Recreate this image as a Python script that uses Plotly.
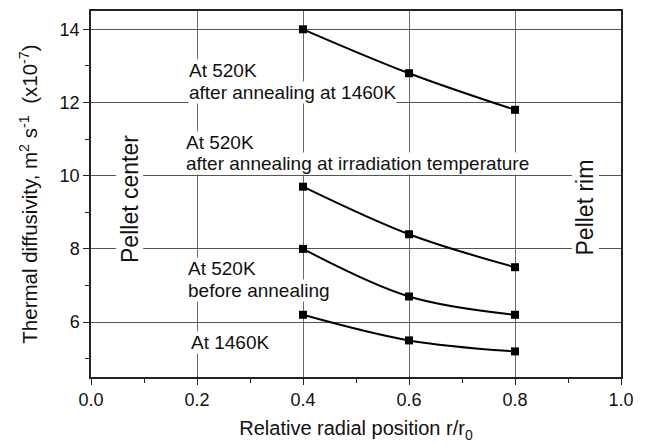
import plotly.graph_objects as go

r_pos = [0.4, 0.6, 0.8]
after_1460 = [14.0, 12.8, 11.8]
after_irr = [9.7, 8.4, 7.5]
before_ann = [8.0, 6.7, 6.2]
at_1460 = [6.2, 5.5, 5.2]

x_ticks = [0.0, 0.2, 0.4, 0.6, 0.8, 1.0]
x_ticklabels = ["0.0", "0.2", "0.4", "0.6", "0.8", "1.0"]
y_ticks = [6, 8, 10, 12, 14]
y_ticklabels = ["6", "8", "10", "12", "14"]

FONT = "Liberation Sans, Arial, sans-serif"
fig = go.Figure()
for name, ys in [("after 1460K", after_1460), ("after irr", after_irr),
                 ("before", before_ann), ("1460K", at_1460)]:
    fig.add_trace(go.Scatter(
        x=r_pos, y=ys, mode="lines+markers", name=name,
        line=dict(color="black", width=2, shape="spline"),
        marker=dict(symbol="square", size=8, color="black"),
        showlegend=False))

ann_font = dict(family=FONT, size=19, color="#111")
texts = [
    ("At 520K", 0.1825, 12.874),
    ("after annealing at 1460K", 0.1825, 12.277),
    ("At 520K", 0.1774, 10.92),
    ("after annealing at irradiation temperature", 0.1774, 10.32),
    ("At 520K", 0.1817, 7.473),
    ("before annealing", 0.1817, 6.863),
    ("At 1460K", 0.1868, 5.43),
]
for t, x, y in texts:
    fig.add_annotation(x=x, y=y, xref="x", yref="y", text=t, showarrow=False,
                       xanchor="left", yanchor="middle", font=ann_font,
                       bgcolor="white", borderpad=0)

fig.add_annotation(x=0.0723, y=9.373, xref="x", yref="y", text="Pellet center",
                   showarrow=False, textangle=-90, font=dict(family=FONT, size=23, color="#111"),
                   bgcolor="white", borderpad=0, xanchor="center", yanchor="middle")
fig.add_annotation(x=0.932, y=9.13, xref="x", yref="y", text="Pellet rim",
                   showarrow=False, textangle=-90, font=dict(family=FONT, size=23, color="#111"),
                   bgcolor="white", borderpad=0, xanchor="center", yanchor="middle")

fig.update_xaxes(
    range=[0, 1.0], tickvals=x_ticks, ticktext=x_ticklabels,
    showgrid=True, gridcolor="#6a6a6a", gridwidth=1.3,
    ticks="outside", ticklen=6, tickwidth=1.3, tickcolor="#222",
    minor=dict(tickvals=[0.1, 0.3, 0.5, 0.7, 0.9], ticks="outside", ticklen=4,
               tickwidth=1.3, tickcolor="#222", showgrid=False),
    showline=True, linecolor="#222", linewidth=1.5, mirror=True,
    zeroline=False, tickfont=dict(family=FONT, size=18, color="#111"),
    title=dict(text="Relative radial position r/r<sub>0</sub>",
               font=dict(family=FONT, size=20, color="#111"), standoff=12),
)
fig.update_yaxes(
    range=[4.5, 14.5], tickvals=y_ticks, ticktext=y_ticklabels,
    showgrid=True, gridcolor="#555", gridwidth=1.3,
    ticks="outside", ticklen=6, tickwidth=1.3, tickcolor="#222",
    minor=dict(tickvals=[5, 7, 9, 11, 13], ticks="outside", ticklen=4,
               tickwidth=1.3, tickcolor="#222", showgrid=False),
    showline=True, linecolor="#222", linewidth=1.5, mirror=True,
    zeroline=False, tickfont=dict(family=FONT, size=18, color="#111"),
    title=dict(text="Thermal diffusivity, m<sup>2</sup> s<sup>-1</sup>  (x10<sup>-7</sup>)",
               font=dict(family=FONT, size=20.5, color="#111"), standoff=16),
)
fig.update_layout(
    width=645, height=445,
    margin=dict(l=91, r=24, t=9, b=67, pad=0),
    plot_bgcolor="white", paper_bgcolor="white",
    font=dict(family=FONT),
)
fig.write_html("out.html", config={"displayModeBar": False},
               post_script="document.body.style.margin='0';")
